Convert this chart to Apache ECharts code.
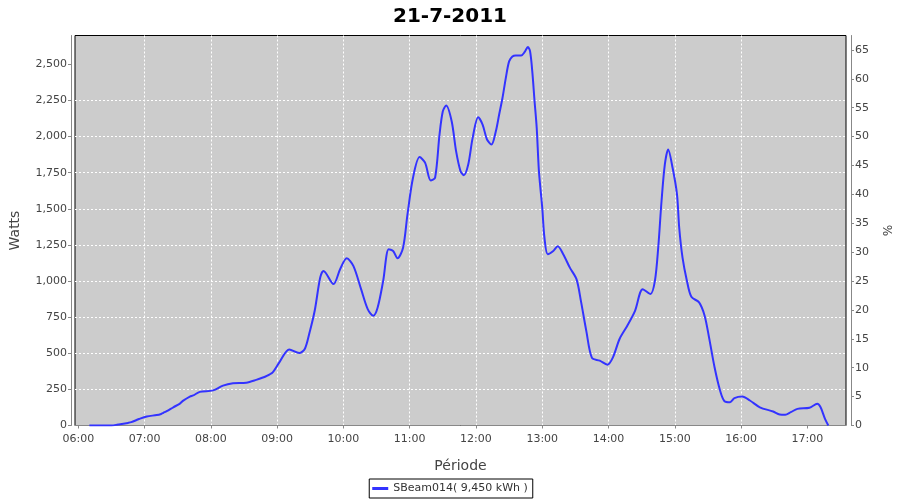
<!DOCTYPE html>
<html>
<head>
<meta charset="utf-8">
<script src="https://cdn.jsdelivr.net/npm/echarts@6/dist/echarts.min.js"></script>
<style>html,body{margin:0;padding:0;background:#fff;}#c{width:900px;height:500px;}</style>
</head>
<body>
<div id="c"></div>
<script>
const title = '21-7-2011';
const seriesName = 'SBeam014( 9,450 kWh )';
const times = ['06:10','06:30','06:36','06:45','06:48','06:55','07:02','07:11','07:15','07:17','07:20','07:26','07:32','07:35','07:41','07:44','07:50','08:02','08:11','08:20','08:32','08:41','08:50','08:56','09:02','09:11','09:20','09:25','09:29','09:34','09:39','09:42','09:51','09:57','10:03','10:09','10:16','10:22','10:27','10:31','10:36','10:41','10:45','10:49','10:54','10:58','11:03','11:09','11:14','11:19','11:23','11:27','11:30','11:33','11:38','11:42','11:46','11:49','11:53','11:57','12:02','12:06','12:10','12:14','12:18','12:21','12:24','12:27','12:30','12:33','12:36','12:41','12:44','12:47','12:49','12:51','12:53','12:55','12:57','13:00','13:02','13:05','13:10','13:14','13:19','13:25','13:31','13:35','13:40','13:45','13:52','13:59','14:04','14:10','14:17','14:24','14:31','14:38','14:42','14:45','14:48','14:51','14:54','14:58','15:02','15:04','15:07','15:11','15:15','15:22','15:27','15:31','15:36','15:41','15:45','15:50','15:54','16:01','16:08','16:17','16:29','16:35','16:40','16:45','16:51','17:02','17:09','17:12','17:16','17:19'];
const watts = [0,0,7,18,23,45,63,72,80,88,99,126,152,172,200,208,233,243,276,292,296,316,341,368,437,527,502,530,633,794,1024,1070,979,1082,1158,1105,944,806,760,817,1001,1220,1208,1158,1231,1462,1715,1858,1818,1697,1715,2014,2175,2215,2106,1899,1761,1733,1807,1991,2134,2083,1980,1945,2037,2153,2267,2405,2521,2555,2562,2562,2585,2620,2590,2450,2250,2060,1761,1508,1300,1186,1208,1241,1186,1093,1013,863,650,468,449,421,472,599,691,794,944,910,1001,1231,1554,1807,1911,1784,1600,1369,1162,1001,891,852,760,610,403,242,168,161,189,200,173,126,97,76,74,92,115,123,150,126,46,0];
const hourTicks = ['06:00','07:00','08:00','09:00','10:00','11:00','12:00','13:00','14:00','15:00','16:00','17:00'];
const wattTicks = [0,250,500,750,1000,1250,1500,1750,2000,2250,2500];
const pctTicks = [0,5,10,15,20,25,30,35,40,45,50,55,60,65];

function toMin(s){const p=s.split(':');return (+p[0])*60+(+p[1]);}
function pad(n){return (n<10?'0':'')+n;}
function fmtNum(v){return Math.round(v).toString().replace(/\B(?=(\d{3})+(?!\d))/g, ',');}
const data = times.map((t,i)=>[toMin(t), watts[i]]);
const hourMins = hourTicks.map(toMin);

const font = 'DejaVu Sans';
const split = {show: true, showMinLine: false, showMaxLine: false, lineStyle: {color: '#ffffff', type: [2, 2], width: 1}};
const chart = echarts.init(document.getElementById('c'), null, {renderer:'canvas'});
chart.setOption({
  animation: false,
  backgroundColor: '#ffffff',
  title: {text: title, left: 'center', top: 2, textStyle: {fontFamily: font, fontSize: 20, fontWeight: 'bold', color: '#000'}},
  legend: {
    bottom: 2, left: 'center', data: [seriesName],
    borderColor: '#000', borderWidth: 1, padding: [4, 5, 4, 3],
    icon: 'rect', itemWidth: 16, itemHeight: 3, itemGap: 4,
    textStyle: {fontFamily: font, fontSize: 11, color: '#333'}
  },
  grid: {left: 75, right: 53, top: 35.5, bottom: 74.5, show: true, backgroundColor: '#cccccc', borderColor: '#000', borderWidth: 1},
  xAxis: {
    type: 'value', min: 357, max: 1055, minInterval: 60, maxInterval: 60,
    offset: 4,
    name: 'Période', nameLocation: 'middle', nameGap: 30,
    nameTextStyle: {fontFamily: font, fontSize: 14, color: '#444'},
    axisLine: {show: true, lineStyle: {color: '#888'}},
    axisTick: {show: true, length: 3, customValues: hourMins, lineStyle: {color: '#888'}},
    axisLabel: {showMinLabel: true, showMaxLabel: true, customValues: hourMins, fontFamily: font, fontSize: 11, color: '#444', margin: 4,
      formatter: v => pad(Math.floor(v/60)) + ':' + pad(v%60)},
    splitLine: split
  },
  yAxis: [{
    type: 'value', min: 0, max: 2700, interval: 250, position: 'left', offset: 4,
    name: 'Watts', nameLocation: 'middle', nameGap: 49, nameRotate: 90,
    nameTextStyle: {fontFamily: font, fontSize: 14, color: '#444'},
    axisLine: {show: true, lineStyle: {color: '#888'}},
    axisTick: {show: true, length: 3, customValues: wattTicks, lineStyle: {color: '#888'}},
    axisLabel: {showMinLabel: true, showMaxLabel: true, customValues: wattTicks, fontFamily: font, fontSize: 11, color: '#444', margin: 4, formatter: v => fmtNum(v)},
    splitLine: split
  }, {
    type: 'value', min: 0, max: 67.5, interval: 5, position: 'right', offset: 5,
    name: '%', nameLocation: 'middle', nameGap: 29, nameRotate: -90,
    nameTextStyle: {fontFamily: font, fontSize: 12, color: '#444'},
    axisLine: {show: true, lineStyle: {color: '#888'}},
    axisTick: {show: true, length: 3, customValues: pctTicks, lineStyle: {color: '#888'}},
    axisLabel: {showMinLabel: true, showMaxLabel: true, customValues: pctTicks, fontFamily: font, fontSize: 11, color: '#444', margin: 4},
    splitLine: {show: false}
  }],
  series: [{
    name: seriesName, type: 'line', data: data, yAxisIndex: 0,
    showSymbol: false, symbol: 'none', smooth: 0.3,
    lineStyle: {color: '#3333ff', width: 2}, itemStyle: {color: '#3333ff'}
  }]
});
</script>
</body>
</html>
